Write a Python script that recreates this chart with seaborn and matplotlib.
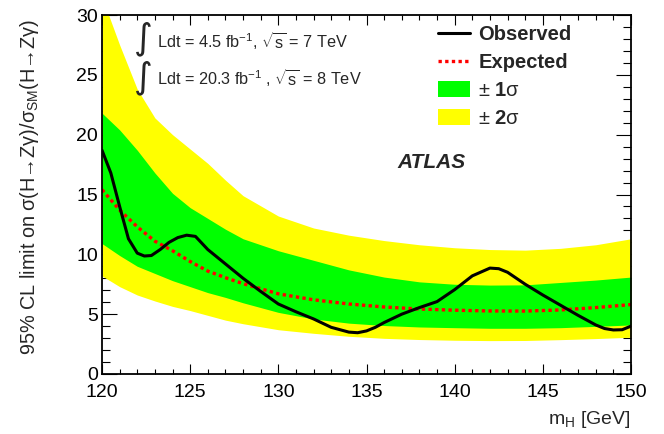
import matplotlib
matplotlib.use("Agg")
import matplotlib.pyplot as plt
import seaborn as sns
import pandas as pd
import numpy as np
from matplotlib.lines import Line2D
from matplotlib.patches import Patch
from matplotlib.ticker import MultipleLocator

# Observed limit
obs_mass = [120, 120.5, 121, 121.5, 122, 122.4, 122.8, 123.3, 123.8, 124.3, 124.8, 125.3,
            126, 127, 128, 129, 130, 131, 132, 133, 134, 134.5, 135, 135.5, 136, 137, 138,
            139, 140, 141, 142, 142.5, 143, 144, 145, 146, 147, 148, 148.5, 149, 149.5, 150]
obs_limit = [18.7, 16.8, 14.0, 11.3, 10.1, 9.86, 9.9, 10.4, 11.0, 11.4, 11.6, 11.5,
             10.4, 9.2, 8.0, 6.9, 5.85, 5.2, 4.6, 3.9, 3.5, 3.45, 3.6, 3.9, 4.3, 5.0, 5.55,
             6.05, 7.05, 8.2, 8.85, 8.8, 8.5, 7.5, 6.6, 5.75, 4.9, 4.1, 3.8, 3.68, 3.7, 4.0]

# Expected limit and bands
band_mass = [120, 121, 122, 123, 124, 125, 126, 127, 128, 130, 132, 134, 136, 138, 140,
             142, 144, 146, 148, 150]
exp_limit = [15.4, 13.7, 12.3, 11.1, 10.3, 9.4, 8.6, 8.05, 7.55, 6.7, 6.2, 5.85, 5.6, 5.43,
             5.33, 5.27, 5.26, 5.35, 5.55, 5.8]
one_sig_up = [21.8, 20.4, 18.7, 16.8, 15.1, 13.9, 13.0, 12.1, 11.3, 10.3, 9.5, 8.7, 8.1, 7.7,
              7.5, 7.43, 7.45, 7.65, 7.85, 8.1]
one_sig_dn = [10.9, 9.9, 9.0, 8.4, 7.8, 7.3, 6.8, 6.4, 5.95, 5.15, 4.6, 4.25, 4.05, 3.93,
              3.87, 3.82, 3.82, 3.87, 3.98, 4.1]
two_sig_up = [31.5, 27.5, 23.8, 21.4, 20.0, 18.8, 17.6, 16.2, 14.9, 13.2, 12.2, 11.6, 11.15,
              10.8, 10.55, 10.4, 10.35, 10.5, 10.8, 11.3]
two_sig_dn = [8.2, 7.3, 6.6, 6.1, 5.65, 5.3, 4.9, 4.5, 4.2, 3.7, 3.4, 3.15, 2.98, 2.88, 2.82,
              2.79, 2.8, 2.87, 2.96, 3.07]

obs_df = pd.DataFrame({"mH": obs_mass, "limit": obs_limit})
exp_df = pd.DataFrame({"mH": band_mass, "limit": exp_limit})

sns.set_style("ticks")
plt.rcParams["font.family"] = ["Liberation Sans", "DejaVu Sans"]
plt.rcParams["mathtext.fontset"] = "custom"
plt.rcParams["mathtext.rm"] = "Liberation Sans"
plt.rcParams["mathtext.it"] = "Liberation Sans:italic"
plt.rcParams["mathtext.bf"] = "Liberation Sans:bold"
plt.rcParams["mathtext.sf"] = "Liberation Sans"

fig = plt.figure(figsize=(6.64, 4.34), dpi=100)
ax = fig.add_axes([102 / 664, 1 - 374 / 434, 529 / 664, 359 / 434])

ax.fill_between(band_mass, two_sig_dn, two_sig_up, color="#ffff00", lw=0)
ax.fill_between(band_mass, one_sig_dn, one_sig_up, color="#00ff00", lw=0)
sns.lineplot(data=exp_df, x="mH", y="limit", ax=ax, color="#ff0000", lw=2.4,
             linestyle=(0, (1, 1)))
sns.lineplot(data=obs_df, x="mH", y="limit", ax=ax, color="black", lw=2.2)

ax.set_xlim(120, 150)
ax.set_ylim(0, 30)
ax.xaxis.set_major_locator(MultipleLocator(5))
ax.xaxis.set_minor_locator(MultipleLocator(1))
ax.yaxis.set_major_locator(MultipleLocator(5))
ax.yaxis.set_minor_locator(MultipleLocator(1))
ax.tick_params(axis="both", which="both", direction="in", top=True, right=True,
               width=0.8, labelsize=14, colors="black")
ax.tick_params(axis="x", which="major", length=7.2, pad=7)
ax.tick_params(axis="x", which="minor", length=3.6)
ax.tick_params(axis="y", which="major", length=10.8, pad=3)
ax.tick_params(axis="y", which="minor", length=5.8)
for sp in ax.spines.values():
    sp.set_linewidth(1.3)
    sp.set_color("black")

ax.set_xlabel(r"m$_{\rm H}$ [GeV]", fontsize=14, loc="right")
ax.xaxis.set_label_coords(1.0, -0.097)
ax.set_ylabel(r"95% CL limit on σ(H→Zγ)/σ$_{\rm SM}$(H→Zγ)", fontsize=14.3)
ax.yaxis.set_label_coords(-0.115, 0.52)

# luminosity text
ax.text(0.079, 0.933, "∫", fontsize=26, family="DejaVu Sans", ha="center", va="center",
        transform=ax.transAxes)
ax.text(0.079, 0.825, "∫", fontsize=26, family="DejaVu Sans", ha="center", va="center",
        transform=ax.transAxes)
ax.text(0.104, 0.908, r"Ldt = 4.5 fb$^{-1}$, $\sqrt{\rm s}$ = 7 TeV", fontsize=11.7,
        va="baseline", transform=ax.transAxes)
ax.text(0.104, 0.805, r"Ldt = 20.3 fb$^{-1}$ , $\sqrt{\rm s}$ = 8 TeV", fontsize=11.7,
        va="baseline", transform=ax.transAxes)
ax.text(0.558, 0.574, "ATLAS", fontsize=15, fontweight="bold", style="italic",
        va="baseline", transform=ax.transAxes)

handles = [Line2D([], [], color="black", lw=2.2),
           Line2D([], [], color="#ff0000", lw=2.4, linestyle=(0, (1, 1))),
           Patch(facecolor="#00ff00", edgecolor="none"),
           Patch(facecolor="#ffff00", edgecolor="none")]
labels = ["Observed", "Expected", r"± $\mathbf{1}$σ", r"± $\mathbf{2}$σ"]
leg = ax.legend(handles, labels, loc="upper left", bbox_to_anchor=(0.635, 0.972),
                frameon=False, fontsize=14.5, borderpad=0, borderaxespad=0,
                handlelength=1.6, handleheight=0.85, handletextpad=0.4, labelspacing=0.45)
leg.get_texts()[0].set_fontweight("bold")
leg.get_texts()[1].set_fontweight("bold")

fig.savefig("out.png", dpi=100)
